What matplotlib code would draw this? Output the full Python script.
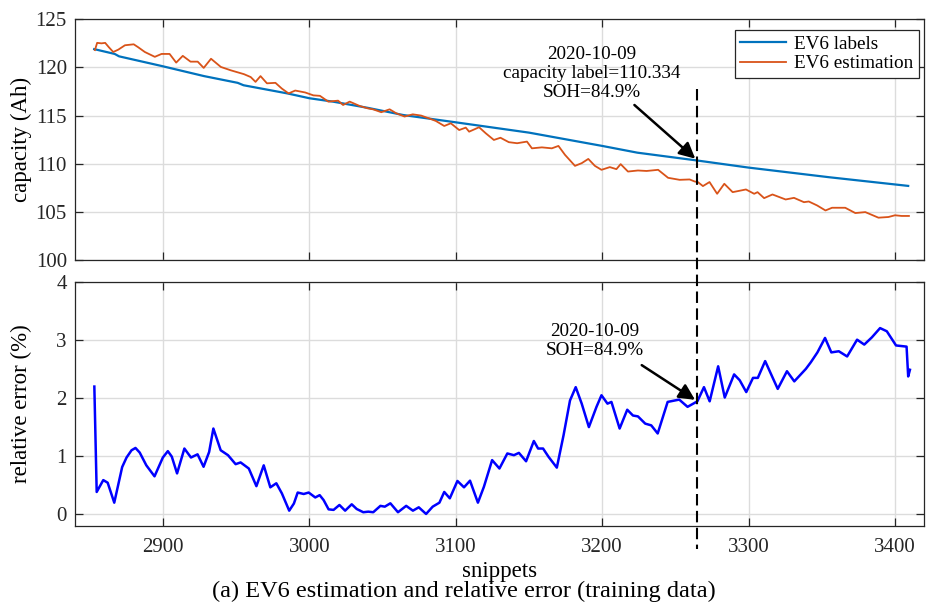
import matplotlib
matplotlib.use('Agg')
import matplotlib.pyplot as plt
from matplotlib.lines import Line2D
from matplotlib.transforms import blended_transform_factory

plt.rcParams['font.family'] = ['Liberation Serif', 'DejaVu Serif']

# capacity labels (Ah)
label_x = [2853, 2867, 2870, 2899, 2928, 2951, 2955, 2985, 3000, 3016, 3040,
           3064, 3100, 3150, 3200, 3224, 3265, 3300, 3355, 3409]
label_y = [121.9, 121.4, 121.15, 120.15, 119.1, 118.4, 118.15, 117.3, 116.8,
           116.45, 115.8, 115.06, 114.3, 113.23, 111.85, 111.15, 110.334,
           109.6, 108.6, 107.7]

# estimated capacity (Ah)
est_x = [2853.5, 2855, 2858, 2860.5, 2863, 2866, 2869.5, 2874, 2880, 2883,
         2887.6, 2894.4, 2899, 2904.5, 2909, 2913.5, 2918.8, 2923.7, 2927.8,
         2932.8, 2939.5, 2946.3, 2955.3, 2959.9, 2963.2, 2966.6, 2971, 2976.8,
         2981.2, 2985.8, 2990.3, 2997.1, 3002.7, 3007.2, 3012.9, 3019.6, 3023,
         3027.5, 3034.3, 3039.9, 3043.5, 3049.1, 3054.8, 3059.3, 3065, 3070.6,
         3076.3, 3081.9, 3086.4, 3092.1, 3096.6, 3102.3, 3106.8, 3109.1,
         3115.9, 3120.4, 3126, 3130.5, 3136.2, 3141.9, 3148.6, 3152, 3158.8,
         3165.6, 3170.1, 3174.6, 3181.4, 3186, 3190.5, 3195, 3199.5, 3205.2,
         3209.7, 3212.6, 3217.6, 3224.4, 3230.3, 3233.7, 3238.2, 3245, 3252.9,
         3259.7, 3263.1, 3265.4, 3268.8, 3273.3, 3278.5, 3283.4, 3289.1,
         3298.2, 3303.8, 3306.1, 3310.6, 3316.3, 3325.3, 3331, 3337.8, 3341.1,
         3346.8, 3352.5, 3357, 3366, 3372.9, 3379.7, 3388.7, 3395.5, 3400,
         3404.5, 3409.5]
est_y = [121.8, 122.55, 122.5, 122.55, 122.1, 121.6, 121.85, 122.3, 122.4,
         122.1, 121.6, 121.1, 121.4, 121.4, 120.5, 121.2, 120.6, 120.6, 119.95,
         120.9, 120.05, 119.7, 119.3, 119.0, 118.5, 119.1, 118.35, 118.4,
         117.8, 117.3, 117.6, 117.4, 117.1, 117.05, 116.45, 116.55, 116.1,
         116.45, 116.0, 115.75, 115.65, 115.35, 115.65, 115.24, 114.9, 115.13,
         115.0, 114.7, 114.44, 113.92, 114.2, 113.5, 113.75, 113.33, 113.79,
         113.17, 112.47, 112.7, 112.24, 112.13, 112.3, 111.6, 111.7, 111.6,
         111.85, 110.92, 109.78, 110.06, 110.5, 109.78, 109.37, 109.65, 109.44,
         109.96, 109.19, 109.3, 109.25, 109.3, 109.37, 108.54, 108.33, 108.37,
         108.16, 108.09, 107.68, 108.1, 106.88, 107.92, 107.05, 107.33, 106.88,
         107.05, 106.43, 106.81, 106.29, 106.46, 106.01, 106.08, 105.67,
         105.15, 105.43, 105.43, 104.88, 104.98, 104.4, 104.47, 104.65,
         104.58, 104.58]

# relative error (%)
err_x = [2853.1, 2854.7, 2859.2, 2862.2, 2866.7, 2872.1, 2875.1, 2878.5,
         2881.2, 2884.1, 2888.6, 2894.2, 2899.9, 2903.3, 2906, 2909.6, 2914.6,
         2919.1, 2923.6, 2927.7, 2931.5, 2934.4, 2939.4, 2944.4, 2949.6, 2953,
         2958.6, 2963.8, 2968.8, 2973.3, 2977.4, 2981.2, 2986.2, 2989.4,
         2992, 2996.1, 2999.5, 3004, 3007, 3009.7, 3013.1, 3016.5, 3020.5,
         3024.4, 3028.9, 3032.3, 3036.8, 3040.2, 3043.6, 3048.5, 3051.5,
         3055.3, 3060.5, 3066.1, 3070.7, 3074.7, 3079.7, 3084.2, 3088.8,
         3092.1, 3095.9, 3101.1, 3105.6, 3109.7, 3115.1, 3119.2, 3124.8,
         3129.8, 3135.2, 3139.7, 3143.1, 3148, 3153.3, 3156.2, 3159.6, 3163.4,
         3169, 3173.6, 3178, 3181.9, 3186, 3190.9, 3196.1, 3199.5, 3203.6,
         3206.3, 3211.9, 3217.1, 3221, 3224.4, 3229.4, 3233.5, 3237.9, 3244.7,
         3252.6, 3258.3, 3265, 3269.5, 3273.4, 3279.2, 3283.7, 3290.1, 3293.9,
         3298.4, 3303, 3306.3, 3311.3, 3319.9, 3326.2, 3331.2, 3339.1, 3342.5,
         3347, 3352.2, 3356.5, 3361.6, 3367.3, 3374.1, 3379, 3384.2, 3389.8,
         3394.4, 3400.7, 3407.9, 3409, 3410.2]
err_y = [2.20, 0.38, 0.585, 0.54, 0.195, 0.81, 0.975, 1.10, 1.14, 1.06, 0.84,
         0.65, 0.975, 1.085, 0.99, 0.70, 1.13, 0.975, 1.03, 0.815, 1.07, 1.475,
         1.10, 1.015, 0.86, 0.89, 0.785, 0.48, 0.84, 0.46, 0.53, 0.355, 0.057,
         0.18, 0.37, 0.345, 0.37, 0.285, 0.325, 0.24, 0.08, 0.07, 0.155,
         0.057, 0.167, 0.086, 0.03, 0.04, 0.03, 0.14, 0.126, 0.184, 0.03,
         0.14, 0.057, 0.115, 0.0, 0.126, 0.195, 0.38, 0.27, 0.57, 0.46, 0.575,
         0.195, 0.47, 0.93, 0.785, 1.045, 1.015, 1.055, 0.91, 1.26, 1.13, 1.13,
         0.985, 0.80, 1.36, 1.96, 2.19, 1.905, 1.50, 1.85, 2.05, 1.905, 1.935,
         1.475, 1.80, 1.70, 1.685, 1.56, 1.53, 1.39, 1.935, 1.975, 1.85,
         1.945, 2.19, 1.945, 2.55, 2.01, 2.41, 2.31, 2.105, 2.35, 2.35, 2.64,
         2.16, 2.465, 2.29, 2.505, 2.62, 2.79, 3.04, 2.79, 2.81, 2.72, 3.01,
         2.925, 3.05, 3.21, 3.155, 2.91, 2.89, 2.375, 2.49]

mark_x = 3265
mark_cap = 110.334
mark_err = 1.945
x_ticks = [2900, 3000, 3100, 3200, 3300, 3400]

axis_col = '#262626'

fig = plt.figure(figsize=(9.28, 6.02), dpi=100)
ax1 = fig.add_axes([0.081, 0.568, 0.915, 0.4])
ax2 = fig.add_axes([0.081, 0.127, 0.915, 0.404])

for ax in (ax1, ax2):
    ax.set_xlim(2840, 3420)
    ax.set_xticks(x_ticks)
    ax.grid(True, color='#dcdcdc', lw=1.0)
    ax.set_axisbelow(True)
    ax.tick_params(direction='in', top=True, right=True, length=5.5,
                   width=0.9, colors=axis_col, labelsize=15, pad=6)
    ax.tick_params(axis='x', pad=9)
    for s in ax.spines.values():
        s.set_color(axis_col)
        s.set_linewidth(0.9)

ax1.plot(label_x, label_y, color='#0072BD', lw=1.6, label='EV6 labels')
ax1.plot(est_x, est_y, color='#D95319', lw=1.3, label='EV6 estimation')
ax1.set_ylim(100, 125)
ax1.set_yticks([100, 105, 110, 115, 120, 125])
ax1.tick_params(axis='x', labelbottom=False)
ax1.set_ylabel('capacity (Ah)', fontsize=16.5)
ax1.yaxis.set_label_coords(-0.051, 0.5)
ax1.legend(loc='upper right', bbox_to_anchor=(919 / 928, 1 - 30 / 602),
           bbox_transform=fig.transFigure, borderaxespad=0, fancybox=False,
           edgecolor='#262626', framealpha=1, fontsize=13.8, labelspacing=0.1,
           borderpad=0.3, handlelength=2.4, handletextpad=0.4)
ax1.legend_.get_frame().set_linewidth(0.9)

ax1.text(3193, 119.4, '2020-10-09\ncapacity label=110.334\nSOH=84.9%',
         ha='center', va='center', fontsize=13.8, linespacing=1.15)
ax1.annotate('', xy=(mark_x, mark_cap), xytext=(3222, 116.1),
             arrowprops=dict(arrowstyle='-|>', color='k', lw=1.8,
                             mutation_scale=24, shrinkA=0, shrinkB=2))

ax2.plot(err_x, err_y, color='#0000FF', lw=1.8)
ax2.set_ylim(-0.2, 4)
ax2.set_yticks([0, 1, 2, 3, 4])
ax2.set_ylabel('relative error (%)', fontsize=16.5)
ax2.yaxis.set_label_coords(-0.051, 0.5)
ax2.set_xlabel('snippets', fontsize=16.5, labelpad=3)

ax2.text(3195, 2.98, '2020-10-09\nSOH=84.9%', ha='center', va='center',
         fontsize=13.8, linespacing=1.15)
ax2.annotate('', xy=(mark_x, mark_err), xytext=(3227, 2.57),
             arrowprops=dict(arrowstyle='-|>', color='k', lw=1.8,
                             mutation_scale=24, shrinkA=0, shrinkB=2))

# dashed marker running through both panels
trans = blended_transform_factory(ax2.transData, fig.transFigure)
fig.add_artist(Line2D([mark_x, mark_x], [1 - 89 / 602, 1 - 549 / 602],
                      transform=trans, color='k', lw=1.5,
                      linestyle=(0, (5.5, 2.6))))

fig.text(0.5, 1 - 591 / 602,
         '(a) EV6 estimation and relative error (training data)',
         ha='center', va='center', fontsize=17.5)

fig.savefig('out.png', dpi=100)
